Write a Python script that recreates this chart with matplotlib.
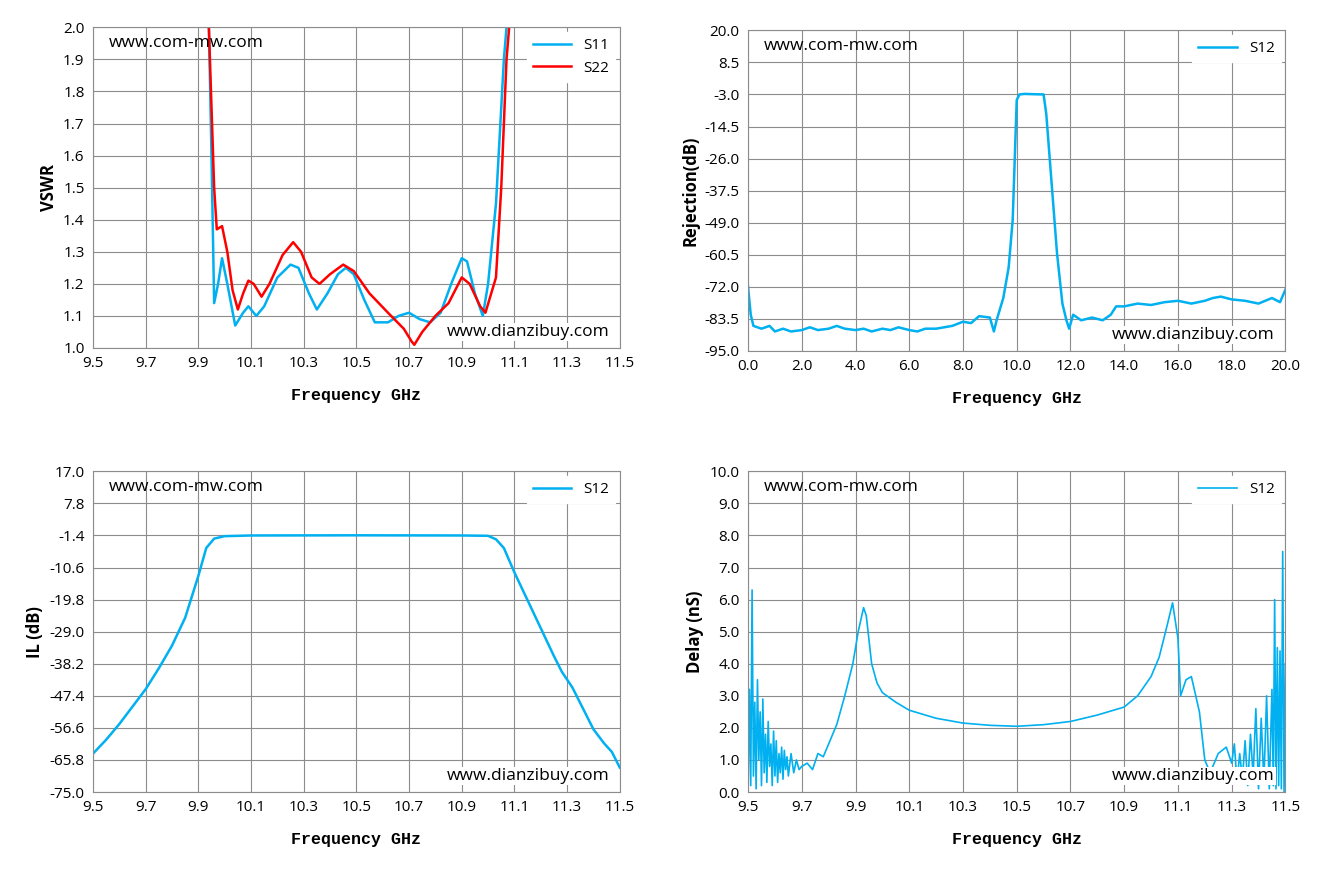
import matplotlib
matplotlib.use("Agg")
import matplotlib.pyplot as plt
import numpy as np

plt.rcParams['font.family'] = ['Open Sans', 'DejaVu Sans']

CYAN = "#00B0F0"
RED = "#FF0000"

# ---- VSWR ----
s11_f = [9.94, 9.95, 9.96, 9.975, 9.99, 10.01, 10.04, 10.07, 10.09, 10.12, 10.15, 10.2, 10.25, 10.28,
         10.32, 10.35, 10.39, 10.43, 10.46, 10.49, 10.53, 10.57, 10.62, 10.66, 10.7, 10.74, 10.78,
         10.82, 10.86, 10.9, 10.92, 10.95, 10.98, 11.0, 11.03, 11.06, 11.07]
s11_v = [2.0, 1.6, 1.14, 1.2, 1.28, 1.2, 1.07, 1.11, 1.13, 1.1, 1.13, 1.22, 1.26, 1.25,
         1.17, 1.12, 1.17, 1.23, 1.25, 1.23, 1.15, 1.08, 1.08, 1.1, 1.11, 1.09, 1.08,
         1.11, 1.2, 1.28, 1.27, 1.17, 1.1, 1.2, 1.45, 1.9, 2.0]
s22_f = [9.94, 9.96, 9.97, 9.99, 10.01, 10.03, 10.05, 10.07, 10.09, 10.11, 10.14, 10.17, 10.22, 10.26,
         10.29, 10.33, 10.36, 10.4, 10.45, 10.49, 10.55, 10.62, 10.68, 10.71, 10.72, 10.75, 10.8,
         10.85, 10.9, 10.93, 10.97, 10.99, 11.03, 11.05, 11.07, 11.08]
s22_v = [2.0, 1.5, 1.37, 1.38, 1.3, 1.18, 1.12, 1.17, 1.21, 1.2, 1.16, 1.2, 1.29, 1.33,
         1.3, 1.22, 1.2, 1.23, 1.26, 1.24, 1.17, 1.11, 1.06, 1.02, 1.01, 1.05, 1.1,
         1.14, 1.22, 1.2, 1.13, 1.11, 1.22, 1.5, 1.9, 2.0]

# ---- Rejection ----
rej_f = [0.0, 0.1, 0.2, 0.5, 0.8, 1.0, 1.3, 1.6, 2.0, 2.3, 2.6, 3.0, 3.3, 3.6, 4.0, 4.3, 4.6, 5.0,
         5.3, 5.6, 6.0, 6.3, 6.6, 7.0, 7.3, 7.6, 8.0, 8.3, 8.6, 9.0, 9.15, 9.25, 9.5, 9.7, 9.85,
         10.0, 10.1, 10.3, 10.6, 11.0, 11.1, 11.3, 11.5, 11.7, 11.85, 11.95, 12.1, 12.4, 12.8, 13.2,
         13.5, 13.7, 14.0, 14.5, 15.0, 15.5, 16.0, 16.5, 17.0, 17.3, 17.6, 18.0, 18.5, 19.0, 19.5, 19.8, 20.0]
rej_v = [-72, -82, -86, -87, -86, -88, -87, -88, -87.5, -86.5, -87.5, -87, -86, -87, -87.5, -87, -88, -87,
         -87.5, -86.5, -87.5, -88, -87, -87, -86.5, -86, -84.5, -85, -82.5, -83, -88, -84, -76, -65, -48,
         -5, -3, -2.8, -2.9, -3, -10, -35, -60, -78, -84, -87, -82, -84, -83, -84,
         -82, -79, -79, -78, -78.5, -77.5, -77, -78, -77, -76, -75.5, -76.5, -77, -78, -76, -77.5, -73]

# ---- Insertion loss ----
il_f = [9.5, 9.55, 9.6, 9.65, 9.7, 9.75, 9.8, 9.85, 9.9, 9.93, 9.96, 10.0, 10.1, 10.5, 10.9, 11.0,
        11.03, 11.06, 11.1, 11.15, 11.2, 11.25, 11.28, 11.32, 11.36, 11.4, 11.44, 11.47, 11.5]
il_v = [-64, -60, -55.5, -50.5, -45.5, -39.5, -33, -25, -13, -5, -2.3, -1.6, -1.4, -1.35, -1.4, -1.5,
        -2.5, -5, -12, -20, -28, -36, -40.5, -45, -51, -57, -61, -63.5, -68]

# ---- Group delay ----
dl_f = [9.5, 9.505, 9.51, 9.515, 9.52, 9.525, 9.53, 9.535, 9.54, 9.545, 9.55, 9.555, 9.56, 9.565,
        9.57, 9.575, 9.58, 9.585, 9.59, 9.595, 9.6, 9.605, 9.61, 9.615, 9.62, 9.625, 9.63, 9.635,
        9.64, 9.645, 9.65, 9.66, 9.67, 9.68, 9.69, 9.7, 9.72, 9.74, 9.76, 9.78, 9.8, 9.83, 9.86,
        9.89, 9.91, 9.93, 9.94, 9.96, 9.98, 10.0, 10.05, 10.1, 10.2, 10.3, 10.4, 10.5, 10.6, 10.7,
        10.8, 10.9, 10.95, 11.0, 11.03, 11.06, 11.08, 11.1, 11.11, 11.13, 11.15, 11.18, 11.2, 11.22,
        11.25, 11.28, 11.3, 11.31, 11.32, 11.33, 11.34, 11.35, 11.36, 11.37, 11.38, 11.39, 11.4,
        11.41, 11.42, 11.43, 11.44, 11.45, 11.455, 11.46, 11.465, 11.47, 11.475, 11.48, 11.485,
        11.49, 11.495, 11.5]
dl_v = [0.0, 3.2, 0.2, 6.3, 0.5, 2.8, 0.1, 3.5, 1.0, 2.5, 0.2, 2.9, 0.6, 1.8, 0.3, 2.2, 0.8, 1.5,
        0.2, 1.9, 0.5, 1.6, 0.3, 1.2, 0.6, 1.4, 0.4, 1.3, 0.7, 1.1, 0.5, 1.2, 0.6, 1.0, 0.7, 0.8,
        0.9, 0.7, 1.2, 1.1, 1.5, 2.1, 3.0, 4.0, 5.0, 5.75, 5.5, 4.0, 3.4, 3.1, 2.8, 2.55, 2.3, 2.15,
        2.08, 2.05, 2.1, 2.2, 2.4, 2.65, 3.0, 3.6, 4.2, 5.2, 5.9, 4.8, 3.0, 3.5, 3.6, 2.5, 1.0,
        0.6, 1.2, 1.4, 0.9, 1.5, 0.3, 1.2, 0.4, 1.6, 0.2, 1.8, 0.5, 2.6, 0.1, 2.3, 0.3, 3.0, 0.1,
        3.2, 0.2, 6.0, 0.1, 4.5, 0.2, 4.4, 0.1, 7.5, 0.0, 4.0]

fig = plt.figure(figsize=(13.17, 8.81), dpi=100)
ax1 = fig.add_axes([0.0706, 0.605, 0.400, 0.364])
ax2 = fig.add_axes([0.568, 0.6016, 0.408, 0.364])
ax3 = fig.add_axes([0.0706, 0.101, 0.400, 0.364])
ax4 = fig.add_axes([0.568, 0.101, 0.408, 0.364])

xfont = dict(family='Liberation Mono', fontweight='bold', fontsize=12)
yfont = dict(fontweight='bold', fontsize=12)

def style(ax, xt, yt, xl, yl, fmt_y):
    ax.set_xlim(xt[0], xt[-1])
    ax.set_ylim(yt[0], yt[-1])
    ax.set_xticks(xt)
    ax.set_yticks(yt)
    ax.set_xticklabels([f"{v:.1f}" for v in xt], fontsize=11)
    ax.set_yticklabels([fmt_y(v) for v in yt], fontsize=11)
    ax.grid(True, color='#8c8c8c', linewidth=0.8)
    ax.tick_params(length=0, pad=6)
    for s in ax.spines.values():
        s.set_color('#8c8c8c')
    ax.set_xlabel(xl, labelpad=12, **xfont)
    ax.set_ylabel(yl, **yfont)
    ax.set_axisbelow(True)

ftick = [9.5 + 0.2 * i for i in range(11)]

ax1.plot(s11_f, s11_v, color=CYAN, lw=1.8, label='S11')
ax1.plot(s22_f, s22_v, color=RED, lw=1.8, label='S22')
style(ax1, ftick, [1.0 + 0.1 * i for i in range(11)], 'Frequency GHz', 'VSWR', lambda v: f"{v:.1f}")

ax2.plot(rej_f, rej_v, color=CYAN, lw=1.8, label='S12')
style(ax2, [2.0 * i for i in range(11)], [-95 + 11.5 * i for i in range(11)], 'Frequency GHz',
      'Rejection(dB)', lambda v: f"{v:.1f}")

ax3.plot(il_f, il_v, color=CYAN, lw=1.8, label='S12')
style(ax3, ftick, [-75 + 9.2 * i for i in range(11)], 'Frequency GHz', 'IL (dB)', lambda v: f"{v:.1f}")

ax4.plot(dl_f, dl_v, color=CYAN, lw=1.2, label='S12')
style(ax4, ftick, [float(i) for i in range(11)], 'Frequency GHz', 'Delay (nS)', lambda v: f"{v:.1f}")

for ax in (ax1, ax2, ax3, ax4):
    leg = ax.legend(loc='upper right', fontsize=11, frameon=True, fancybox=False,
                    borderaxespad=0.3, handlelength=2.5)
    leg.get_frame().set_edgecolor('white')
    leg.get_frame().set_alpha(1)
    ax.text(0.03, 0.95, 'www.com-mw.com', transform=ax.transAxes, fontsize=12.5, va='center')
    ax.text(0.98, 0.05, 'www.dianzibuy.com', transform=ax.transAxes, fontsize=12.5, va='center',
            ha='right', bbox=dict(facecolor='white', edgecolor='none', pad=1))

fig.savefig('out.png', dpi=100)
